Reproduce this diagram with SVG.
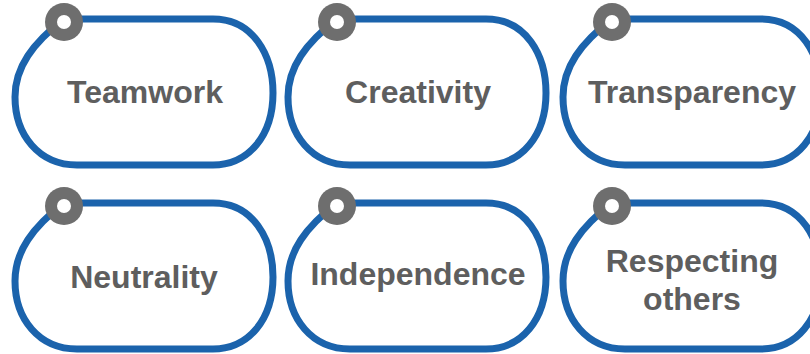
<svg xmlns="http://www.w3.org/2000/svg" width="810" height="354" viewBox="0 0 810 354">
<style>
.box{fill:#fff;stroke:#1b63ac;stroke-width:7;stroke-linejoin:round}
.pin{fill:#6e6e6e}
.hole{fill:#fff}
.lbl{font-family:"Liberation Sans",Arial,sans-serif;font-weight:bold;font-size:32px;fill:#5e5e5e;text-anchor:middle}
</style>
<defs>
<path id="shape" d="M 49,2 L 198,2 C 238,2 258,38 258,76 C 258,118 234,148 198,148 L 62,148 C 24,148 0,118 0,80 C 0,50 18,26 49,2 Z"/>
<g id="pinmark"><circle class="pin" cx="49" cy="5" r="19"/><circle class="hole" cx="49" cy="5" r="7"/></g>
</defs>
<g id="connectors"></g>
<g id="n1" transform="translate(15,17)"><use href="#shape" class="box"/><use href="#pinmark"/><text class="lbl" x="130" y="86">Teamwork</text></g>
<g id="n2" transform="translate(288,17)"><use href="#shape" class="box"/><use href="#pinmark"/><text class="lbl" x="130" y="86">Creativity</text></g>
<g id="n3" transform="translate(563,17)"><use href="#shape" class="box"/><use href="#pinmark"/><text class="lbl" x="129" y="86">Transparency</text></g>
<g id="n4" transform="translate(15,201)"><use href="#shape" class="box"/><use href="#pinmark"/><text class="lbl" x="129" y="87">Neutrality</text></g>
<g id="n5" transform="translate(288,201)"><use href="#shape" class="box"/><use href="#pinmark"/><text class="lbl" x="130" y="84">Independence</text></g>
<g id="n6" transform="translate(563,201)"><use href="#shape" class="box"/><use href="#pinmark"/><text class="lbl" x="129" y="71">Respecting</text><text class="lbl" x="129" y="109">others</text></g>
</svg>
